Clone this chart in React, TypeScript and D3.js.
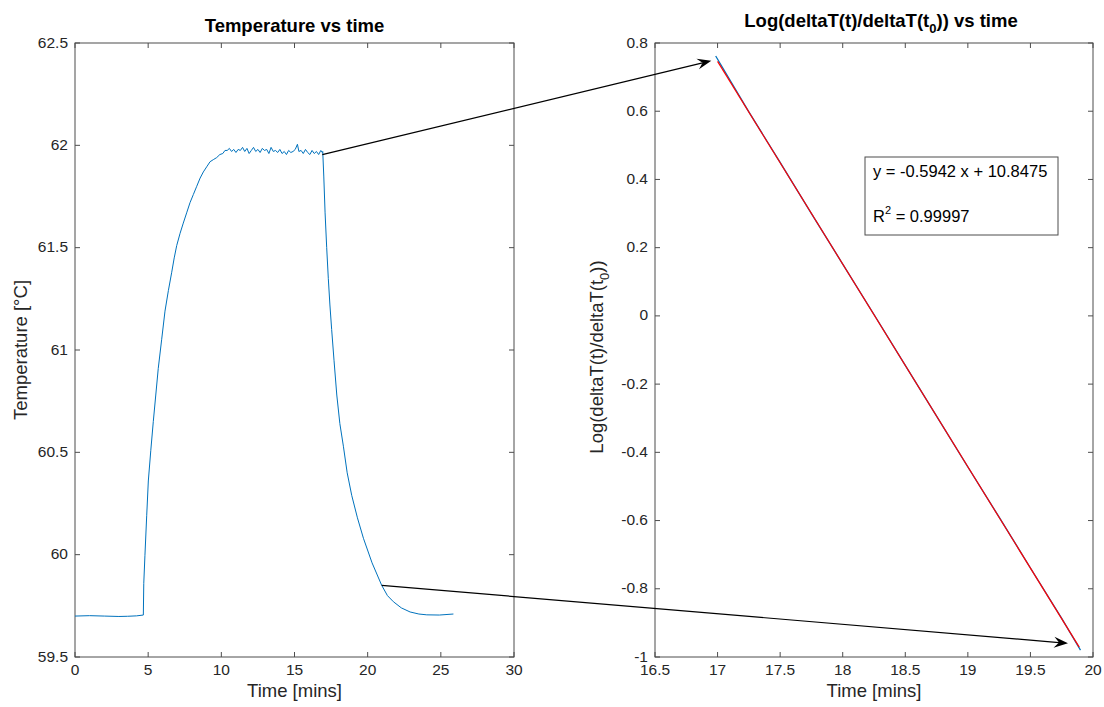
import React from "react";
import * as d3 from "d3";

// ---------- data ----------
const tempTime = [
  0, 1, 2, 3, 3.6, 4.2, 4.67, 4.7, 4.78, 4.9, 5.01, 5.18, 5.35, 5.52, 5.69, 5.92, 6.15, 6.38, 6.61, 6.78, 6.95, 7.18, 7.4,
  7.63, 7.86, 8.09, 8.32, 8.55, 8.77, 9.0, 9.23, 9.45, 9.68, 9.9, 10.1, 10.25,
  10.4, 10.55, 10.7, 10.85, 11.0, 11.15, 11.3, 11.45, 11.6, 11.75, 11.9, 12.05, 12.2, 12.35, 12.5, 12.65, 12.8, 12.95,
  13.1, 13.25, 13.4, 13.55, 13.7, 13.85, 14.0, 14.15, 14.3, 14.45, 14.6, 14.75, 14.9, 15.05, 15.2, 15.3, 15.45, 15.6,
  15.75, 15.9, 16.05, 16.2, 16.35, 16.5, 16.65, 16.8, 16.9,
  16.93, 17.0, 17.09, 17.2, 17.31, 17.42, 17.54, 17.7, 17.89, 18.1, 18.34, 18.6, 18.91, 19.3, 19.71, 20.3, 20.96,
  21.35, 21.76, 22.3, 22.9, 23.5, 24.04, 24.9, 25.86,
];
const tempC = [
  59.7, 59.702, 59.7, 59.698, 59.699, 59.701, 59.705, 59.86, 59.997, 60.19, 60.36, 60.51, 60.65, 60.78, 60.91, 61.05, 61.19, 61.29, 61.38, 61.45, 61.51, 61.57, 61.62,
  61.67, 61.72, 61.76, 61.8, 61.84, 61.87, 61.895, 61.92, 61.93, 61.94, 61.955, 61.96, 61.975,
  61.975, 61.985, 61.97, 61.98, 61.965, 61.98, 61.975, 61.99, 61.97, 61.985, 61.96, 61.975, 61.99, 61.97, 61.98, 61.965, 61.985, 61.975,
  61.98, 61.96, 61.99, 61.97, 61.975, 61.965, 61.98, 61.96, 61.97, 61.955, 61.975, 61.965, 61.97, 61.98, 62.005, 61.97, 61.975, 61.96,
  61.98, 61.965, 61.955, 61.975, 61.96, 61.97, 61.955, 61.975, 61.965,
  61.97, 61.85, 61.67, 61.5, 61.35, 61.22, 61.1, 60.95, 60.78, 60.64, 60.53, 60.4, 60.29, 60.18, 60.08, 59.96, 59.85,
  59.8, 59.77, 59.74, 59.72, 59.71, 59.706, 59.705, 59.71,
];

const logTime = [16.985, 17.25, 17.5, 17.75, 18.0, 18.25, 18.5, 18.75, 19.0, 19.25, 19.5, 19.75, 19.9];
const logValue = [0.762, 0.598, 0.45, 0.3, 0.152, 0.004, -0.145, -0.294, -0.443, -0.59, -0.739, -0.887, -0.98];

const fitSlope = -0.5942;
const fitIntercept = 10.8475;
const fitRange = [17.0, 19.89];
const fitR2 = "0.99997";

const leftXTicks = [0, 5, 10, 15, 20, 25, 30];
const leftYTicks = [59.5, 60, 60.5, 61, 61.5, 62, 62.5];
const rightXTicks = [16.5, 17, 17.5, 18, 18.5, 19, 19.5, 20];
const rightYTicks = [-1, -0.8, -0.6, -0.4, -0.2, 0, 0.2, 0.4, 0.6, 0.8];

// arrows: [left-plot point (time, temp)] -> [right-plot point (time, log)]
const arrowFrom = [
  [16.9, 61.955],
  [20.96, 59.85],
];
const arrowTo = [
  [16.95, 0.748],
  [19.8, -0.96],
];

// ---------- layout ----------
const W = 1104;
const H = 707;
const xL = d3.scaleLinear().domain([0, 30]).range([75, 514]);
const yL = d3.scaleLinear().domain([59.5, 62.5]).range([657, 43]);
const xR = d3.scaleLinear().domain([16.5, 20]).range([655, 1093]);
const yR = d3.scaleLinear().domain([-1, 0.8]).range([657, 43]);

const AX = "#4d4d4d";
const TXT = "#262626";
const FONT = "'Liberation Sans', Arial, Helvetica, sans-serif";
const BLUE = "#0072BD";
const TICK_FS = 15.5;
const LABEL_FS = 18.5;
const TITLE_FS = 18.5;

const fmt = (v: number) => String(Math.round(v * 10) / 10);

function Axes({ x, y, xt, yt }: any) {
  const [x0, x1] = x.range();
  const [y0, y1] = y.range();
  const tl = 5;
  return (
    <g>
      <rect x={x0} y={y1} width={x1 - x0} height={y0 - y1} fill="none" stroke={AX} strokeWidth={1} />
      {xt.map((t: number) => (
        <g key={"x" + t}>
          <line x1={x(t)} x2={x(t)} y1={y0} y2={y0 - tl} stroke={AX} />
          <line x1={x(t)} x2={x(t)} y1={y1} y2={y1 + tl} stroke={AX} />
          <text x={x(t)} y={y0 + 17.5} textAnchor="middle" fontSize={TICK_FS} fill={TXT}>
            {fmt(t)}
          </text>
        </g>
      ))}
      {yt.map((t: number) => (
        <g key={"y" + t}>
          <line x1={x0} x2={x0 + tl} y1={y(t)} y2={y(t)} stroke={AX} />
          <line x1={x1} x2={x1 - tl} y1={y(t)} y2={y(t)} stroke={AX} />
          <text x={x0 - 7} y={y(t) + 4.5} textAnchor="end" fontSize={TICK_FS} fill={TXT}>
            {fmt(t)}
          </text>
        </g>
      ))}
    </g>
  );
}

function Arrow({ from, to }: { from: number[]; to: number[] }) {
  const [sx, sy] = from;
  const [ex, ey] = to;
  const dx = ex - sx;
  const dy = ey - sy;
  const len = Math.hypot(dx, dy);
  const ux = dx / len;
  const uy = dy / len;
  const px = -uy;
  const py = ux;
  const hl = 14;
  const hw = 5.5;
  const notch = 9;
  const bx = ex - ux * hl;
  const by = ey - uy * hl;
  const nx = ex - ux * notch;
  const ny = ey - uy * notch;
  const pts = [
    [ex, ey],
    [bx + px * hw, by + py * hw],
    [nx, ny],
    [bx - px * hw, by - py * hw],
  ];
  return (
    <g>
      <line x1={sx} y1={sy} x2={nx} y2={ny} stroke="#000" strokeWidth={1.2} />
      <polygon points={pts.map((p) => p.join(",")).join(" ")} fill="#000" />
    </g>
  );
}

export default function App() {
  const tempLine = d3
    .line<number>()
    .x((_, i) => xL(tempTime[i]))
    .y((d) => yL(d))(tempC);
  const logLine = d3
    .line<number>()
    .x((_, i) => xR(logTime[i]))
    .y((d) => yR(d))(logValue);
  const fitLine = d3
    .line<number>()
    .x((d) => xR(d))
    .y((d) => yR(fitSlope * d + fitIntercept))(fitRange);

  return (
    <svg
      width={W}
      height={H}
      style={{ position: "absolute", left: 0, top: 0, background: "#fff" }}
      fontFamily={FONT}
    >
      <rect x={0} y={0} width={W} height={H} fill="#fff" />
      {/* left plot */}
      <Axes x={xL} y={yL} xt={leftXTicks} yt={leftYTicks} />
      <path d={tempLine || ""} fill="none" stroke={BLUE} strokeWidth={1} />
      <text x={(75 + 514) / 2} y={32} textAnchor="middle" fontSize={TITLE_FS} fontWeight="bold" fill="#000">
        Temperature vs time
      </text>
      <text x={(75 + 514) / 2} y={697} textAnchor="middle" fontSize={LABEL_FS} fill={TXT}>
        Time [mins]
      </text>
      <text transform={`translate(27,${(43 + 657) / 2}) rotate(-90)`} textAnchor="middle" fontSize={LABEL_FS} fill={TXT}>
        Temperature [°C]
      </text>

      {/* right plot */}
      <Axes x={xR} y={yR} xt={rightXTicks} yt={rightYTicks} />
      <path d={logLine || ""} fill="none" stroke={BLUE} strokeWidth={1.3} />
      <path d={fitLine || ""} fill="none" stroke="#ff0000" strokeWidth={1.2} />
      <text x={(655 + 1093) / 2 + 7} y={27} textAnchor="middle" fontSize={TITLE_FS} fontWeight="bold" fill="#000">
        Log(deltaT(t)/deltaT(t
        <tspan fontSize={13} dy={6}>0</tspan>
        <tspan dy={-6}>)) vs time</tspan>
      </text>
      <text x={(655 + 1093) / 2} y={697} textAnchor="middle" fontSize={LABEL_FS} fill={TXT}>
        Time [mins]
      </text>
      <text transform={`translate(603,${(43 + 657) / 2 + 7}) rotate(-90)`} textAnchor="middle" fontSize={LABEL_FS} fill={TXT}>
        Log(deltaT(t)/deltaT(t
        <tspan fontSize={13} dy={6}>0</tspan>
        <tspan dy={-6}>))</tspan>
      </text>

      {/* fit annotation box */}
      <rect x={865} y={157} width={193} height={78} fill="#fff" stroke={AX} strokeWidth={1} />
      <text x={873} y={177} fontSize={16.5} fill="#000">
        y = {fitSlope} x + {fitIntercept}
      </text>
      <text x={873} y={222} fontSize={16.5} fill="#000">
        R<tspan fontSize={11} dy={-8}>2</tspan>
        <tspan dy={8}> = {fitR2}</tspan>
      </text>

      {/* arrows */}
      {arrowFrom.map((f, i) => (
        <Arrow
          key={i}
          from={[xL(f[0]), yL(f[1])]}
          to={[xR(arrowTo[i][0]), yR(arrowTo[i][1])]}
        />
      ))}
    </svg>
  );
}
